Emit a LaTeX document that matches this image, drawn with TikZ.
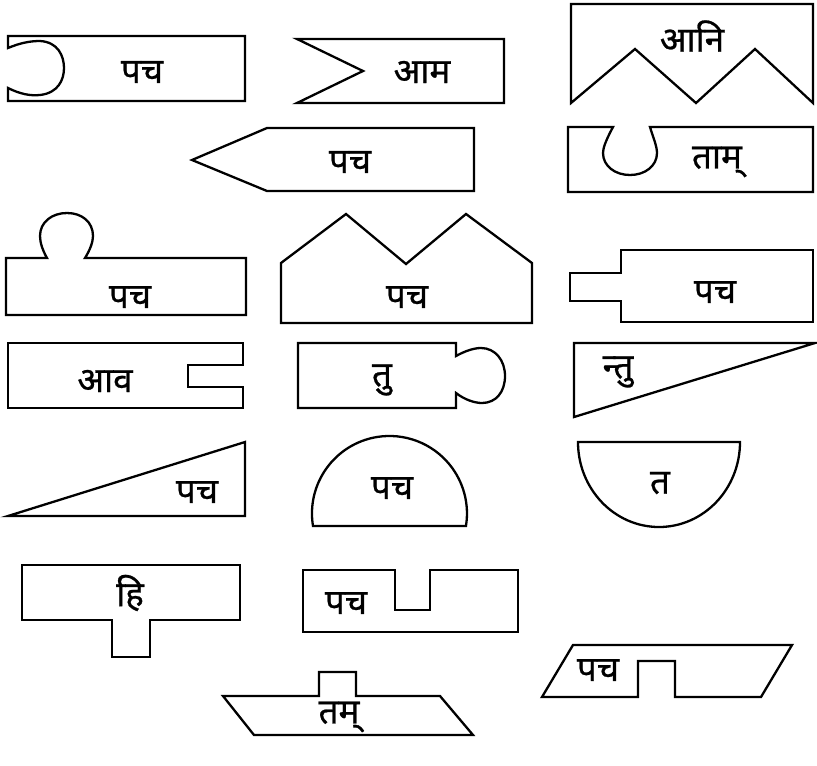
\documentclass[tikz,border=0pt]{standalone}
\usepackage{fontspec}
\newfontfamily\deva[Script=Devanagari,FakeBold=0.7]{Noto Sans}
\begin{document}
\begin{tikzpicture}[x=1pt,y=-1pt,
  piece/.style={draw=black,line width=2.3pt,fill=white,line join=miter},
  lbl/.style={font=\deva\fontsize{35}{40}\selectfont,inner sep=0pt}]
\useasboundingbox (0,0) rectangle (817,766);
% row 1
\draw[piece] (8,48) -- (8,36) -- (245,36) -- (245,101) -- (8,101) -- (8,88)
  .. controls (20,94) and (30,96) .. (40,95) .. controls (58,93) and (64,80) .. (64,68)
  .. controls (64,56) and (58,42) .. (40,41) .. controls (30,41) and (20,43) .. (8,48) -- cycle;
\node[lbl] (t1) at (142,72) {पच};
\draw[piece] (297,39) -- (504,39) -- (504,103) -- (297,103) -- (363,71) -- cycle;
\node[lbl] (t2) at (422,72) {आम};
\draw[piece] (571,103) -- (571,4) -- (813,4) -- (813,103) -- (755,49) -- (696,103) -- (635,49) -- cycle;
\node[lbl] (t3) at (692,36) {आनि};
% row 2
\draw[piece] (192,160) -- (267,128) -- (474,128) -- (474,191) -- (267,191) -- cycle;
\node[lbl] (t4) at (350,162) {पच};
\draw[piece] (650,127) -- (813,127) -- (813,192) -- (568,192) -- (568,127) -- (613,127)
  .. controls (606,140) and (603,148) .. (603,153) .. controls (603,166) and (615,175) .. (630,175)
  .. controls (645,175) and (657,166) .. (657,153) .. controls (657,146) and (653,137) .. (650,127) -- cycle;
\node[lbl] (t5) at (717,162) {ताम्};
% row 3
\draw[piece] (47,258) -- (6,258) -- (6,315) -- (246,315) -- (246,258) -- (85,258)
  .. controls (90,250) and (93,242) .. (93,236) .. controls (93,222) and (82,213) .. (67,213)
  .. controls (52,213) and (40,222) .. (40,236) .. controls (40,243) and (43,251) .. (47,258) -- cycle;
\node[lbl] (t6) at (130,297) {पच};
\draw[piece] (281,323) -- (281,263) -- (346,214) -- (406,264) -- (466,214) -- (532,263) -- (532,323) -- cycle;
\node[lbl] (t7) at (407,297) {पच};
\draw[piece] (621,273) -- (621,250) -- (813,250) -- (813,322) -- (621,322) -- (621,301) -- (570,301) -- (570,273) -- cycle;
\node[lbl] (t8) at (715,292) {पच};
% row 4
\draw[piece] (243,365) -- (243,343) -- (8,343) -- (8,408) -- (243,408) -- (243,387) -- (188,387) -- (188,365) -- cycle;
\node[lbl] (t9) at (105,381) {आव};
\draw[piece] (456,356) -- (456,343) -- (298,343) -- (298,408) -- (456,408) -- (456,393)
  .. controls (465,400) and (475,403) .. (482,403) .. controls (496,403) and (505,392) .. (505,376)
  .. controls (505,360) and (495,348) .. (481,348) .. controls (474,348) and (465,351) .. (456,356) -- cycle;
\node[lbl] (t10) at (382,380) {तु};
\draw[piece] (574,343) -- (815,343) -- (574,417) -- cycle;
\node[lbl] (t11) at (618,372) {न्तु};
% row 5
\draw[piece] (8,516) -- (245,442) -- (245,516) -- cycle;
\node[lbl] (t12) at (197,492) {पच};
\draw[piece] (313,526) arc[start angle=170.7,end angle=369.3,radius=77.5] -- cycle;
\node[lbl] (t13) at (392,488) {पच};
\draw[piece] (578,442) -- (740,442) arc[start angle=0,end angle=180,x radius=81,y radius=85] -- cycle;
\node[lbl] (t14) at (660,483) {त};
% row 6
\draw[piece] (22,565) -- (240,565) -- (240,620) -- (150,620) -- (150,657) -- (112,657) -- (112,620) -- (22,620) -- cycle;
\node[lbl] (t15) at (130,593) {हि};
\draw[piece] (303,570) -- (395,570) -- (395,610) -- (430,610) -- (430,570) -- (518,570) -- (518,632) -- (303,632) -- cycle;
\node[lbl] (t16) at (346,603) {पच};
% row 7
\draw[piece] (573,645) -- (792,645) -- (761,697) -- (675,697) -- (675,661) -- (638,661) -- (638,697) -- (542,697) -- cycle;
\node[lbl] (t17) at (598,670) {पच};
\draw[piece] (223,696) -- (319,696) -- (319,672) -- (356,672) -- (356,696) -- (440,696) -- (473,735) -- (254,735) -- cycle;
\node[lbl] (t18) at (339,717) {तम्};
\end{tikzpicture}
\end{document}
